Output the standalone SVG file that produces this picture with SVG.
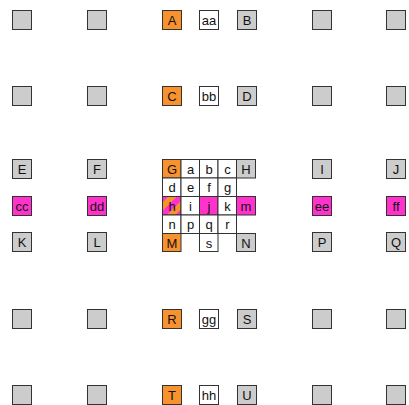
<svg xmlns="http://www.w3.org/2000/svg" width="409" height="405" viewBox="0 0 409 405">
<defs>
<pattern id="stripe" patternUnits="userSpaceOnUse" width="12" height="12" patternTransform="rotate(45)">
<rect class="ps" x="0" y="0" width="12" height="12" fill="#f7922e"/>
<rect class="ps" x="0" y="0" width="6" height="12" fill="#ff33cc"/>
</pattern>
<style>
rect.b{stroke:#333;stroke-width:1}
rect.ps{stroke:none}
.g{fill:#cccccc}
.o{fill:#f7922e}
.m{fill:#ff33cc}
.w{fill:#ffffff}
.s{fill:url(#stripe)}
text{font-family:"Liberation Sans",Arial,sans-serif;font-size:13px;fill:#111;text-anchor:middle}
</style>
</defs>
<rect x="0" y="0" width="409" height="405" fill="#fff"/>
<g id="connectors"/>
<!-- Row 1 -->
<g id="n_r1c1"><rect class="b g" x="12.5" y="10.5" width="19" height="19"/></g>
<g id="n_r1c2"><rect class="b g" x="87.5" y="10.5" width="19" height="19"/></g>
<g id="A"><rect class="b o" x="162.5" y="10.5" width="19" height="19"/><text x="172" y="24.5">A</text></g>
<g id="aa"><rect class="b w" x="199.5" y="10.5" width="19" height="19"/><text x="209" y="24.5">aa</text></g>
<g id="B"><rect class="b g" x="237.5" y="10.5" width="19" height="19"/><text x="247" y="24.5">B</text></g>
<g id="n_r1c5"><rect class="b g" x="312.5" y="10.5" width="19" height="19"/></g>
<g id="n_r1c6"><rect class="b g" x="386.5" y="10.5" width="19" height="19"/></g>
<!-- Row 2 -->
<g id="n_r2c1"><rect class="b g" x="12.5" y="86.5" width="19" height="19"/></g>
<g id="n_r2c2"><rect class="b g" x="87.5" y="86.5" width="19" height="19"/></g>
<g id="C"><rect class="b o" x="162.5" y="86.5" width="19" height="19"/><text x="172" y="100.5">C</text></g>
<g id="bb"><rect class="b w" x="199.5" y="86.5" width="19" height="19"/><text x="209" y="100.5">bb</text></g>
<g id="D"><rect class="b g" x="237.5" y="86.5" width="19" height="19"/><text x="247" y="100.5">D</text></g>
<g id="n_r2c5"><rect class="b g" x="312.5" y="86.5" width="19" height="19"/></g>
<g id="n_r2c6"><rect class="b g" x="386.5" y="86.5" width="19" height="19"/></g>
<!-- Middle left/right -->
<g id="E"><rect class="b g" x="12.5" y="159.5" width="19" height="19"/><text x="22" y="173.5">E</text></g>
<g id="F"><rect class="b g" x="87.5" y="159.5" width="19" height="19"/><text x="97" y="173.5">F</text></g>
<g id="I"><rect class="b g" x="312.5" y="159.5" width="19" height="19"/><text x="322" y="173.5">I</text></g>
<g id="J"><rect class="b g" x="386.5" y="159.5" width="19" height="19"/><text x="396" y="173.5">J</text></g>
<g id="cc"><rect class="b m" x="12.5" y="196.5" width="19" height="19"/><text x="22" y="210.5">cc</text></g>
<g id="dd"><rect class="b m" x="87.5" y="196.5" width="19" height="19"/><text x="97" y="210.5">dd</text></g>
<g id="ee"><rect class="b m" x="312.5" y="196.5" width="19" height="19"/><text x="322" y="210.5">ee</text></g>
<g id="ff"><rect class="b m" x="386.5" y="196.5" width="19" height="19"/><text x="396" y="210.5">ff</text></g>
<g id="K"><rect class="b g" x="12.5" y="232.5" width="19" height="19"/><text x="22" y="246.5">K</text></g>
<g id="L"><rect class="b g" x="87.5" y="232.5" width="19" height="19"/><text x="97" y="246.5">L</text></g>
<g id="P"><rect class="b g" x="312.5" y="232.5" width="19" height="19"/><text x="322" y="246.5">P</text></g>
<g id="Q"><rect class="b g" x="386.5" y="232.5" width="19" height="19"/><text x="396" y="246.5">Q</text></g>
<!-- Middle grid -->
<g id="G"><rect class="b o" x="162.5" y="159.5" width="18.5" height="18.5"/><text x="172" y="173.5">G</text></g>
<g id="a"><rect class="b w" x="181" y="159.5" width="18.5" height="18.5"/><text x="190.5" y="173.5">a</text></g>
<g id="b"><rect class="b w" x="199.5" y="159.5" width="18.5" height="18.5"/><text x="209" y="173.5">b</text></g>
<g id="c"><rect class="b w" x="218" y="159.5" width="18.5" height="18.5"/><text x="227.5" y="173.5">c</text></g>
<g id="H"><rect class="b g" x="236.5" y="159.5" width="19" height="18.5"/><text x="246" y="173.5">H</text></g>
<g id="d"><rect class="b w" x="162.5" y="178" width="18.5" height="18.5"/><text x="172" y="192">d</text></g>
<g id="e"><rect class="b w" x="181" y="178" width="18.5" height="18.5"/><text x="190.5" y="192">e</text></g>
<g id="f"><rect class="b w" x="199.5" y="178" width="18.5" height="18.5"/><text x="209" y="192">f</text></g>
<g id="g"><rect class="b w" x="218" y="178" width="18.5" height="18.5"/><text x="227.5" y="192">g</text></g>
<g id="h"><rect class="b s" x="162.5" y="196.5" width="18.5" height="18.5"/><text x="172" y="210.5">h</text></g>
<g id="i"><rect class="b w" x="181" y="196.5" width="18.5" height="18.5"/><text x="190.5" y="210.5">i</text></g>
<g id="j"><rect class="b m" x="199.5" y="196.5" width="18.5" height="18.5"/><text x="209" y="210.5">j</text></g>
<g id="k"><rect class="b w" x="218" y="196.5" width="18.5" height="18.5"/><text x="227.5" y="210.5">k</text></g>
<g id="m"><rect class="b m" x="236.5" y="196.5" width="19" height="18.5"/><text x="246" y="210.5">m</text></g>
<g id="n"><rect class="b w" x="162.5" y="215" width="18.5" height="18.5"/><text x="172" y="229">n</text></g>
<g id="p"><rect class="b w" x="181" y="215" width="18.5" height="18.5"/><text x="190.5" y="229">p</text></g>
<g id="q"><rect class="b w" x="199.5" y="215" width="18.5" height="18.5"/><text x="209" y="229">q</text></g>
<g id="r"><rect class="b w" x="218" y="215" width="18.5" height="18.5"/><text x="227.5" y="229">r</text></g>
<g id="M"><rect class="b o" x="162.5" y="233.5" width="18.5" height="18"/><text x="172" y="247.5">M</text></g>
<g id="s"><rect class="b w" x="199.5" y="233.5" width="18.5" height="18"/><text x="209" y="247.5">s</text></g>
<g id="N"><rect class="b g" x="236.5" y="233.5" width="19" height="18"/><text x="246" y="247.5">N</text></g>
<!-- Row R -->
<g id="n_r6c1"><rect class="b g" x="12.5" y="309.5" width="19" height="19"/></g>
<g id="n_r6c2"><rect class="b g" x="87.5" y="309.5" width="19" height="19"/></g>
<g id="R"><rect class="b o" x="162.5" y="309.5" width="19" height="19"/><text x="172" y="323.5">R</text></g>
<g id="gg"><rect class="b w" x="199.5" y="309.5" width="19" height="19"/><text x="209" y="323.5">gg</text></g>
<g id="S"><rect class="b g" x="237.5" y="309.5" width="19" height="19"/><text x="247" y="323.5">S</text></g>
<g id="n_r6c5"><rect class="b g" x="312.5" y="309.5" width="19" height="19"/></g>
<g id="n_r6c6"><rect class="b g" x="386.5" y="309.5" width="19" height="19"/></g>
<!-- Row T -->
<g id="n_r7c1"><rect class="b g" x="12.5" y="385.5" width="19" height="19"/></g>
<g id="n_r7c2"><rect class="b g" x="87.5" y="385.5" width="19" height="19"/></g>
<g id="T"><rect class="b o" x="162.5" y="385.5" width="19" height="19"/><text x="172" y="399.5">T</text></g>
<g id="hh"><rect class="b w" x="199.5" y="385.5" width="19" height="19"/><text x="209" y="399.5">hh</text></g>
<g id="U"><rect class="b g" x="237.5" y="385.5" width="19" height="19"/><text x="247" y="399.5">U</text></g>
<g id="n_r7c5"><rect class="b g" x="312.5" y="385.5" width="19" height="19"/></g>
<g id="n_r7c6"><rect class="b g" x="386.5" y="385.5" width="19" height="19"/></g>
</svg>
